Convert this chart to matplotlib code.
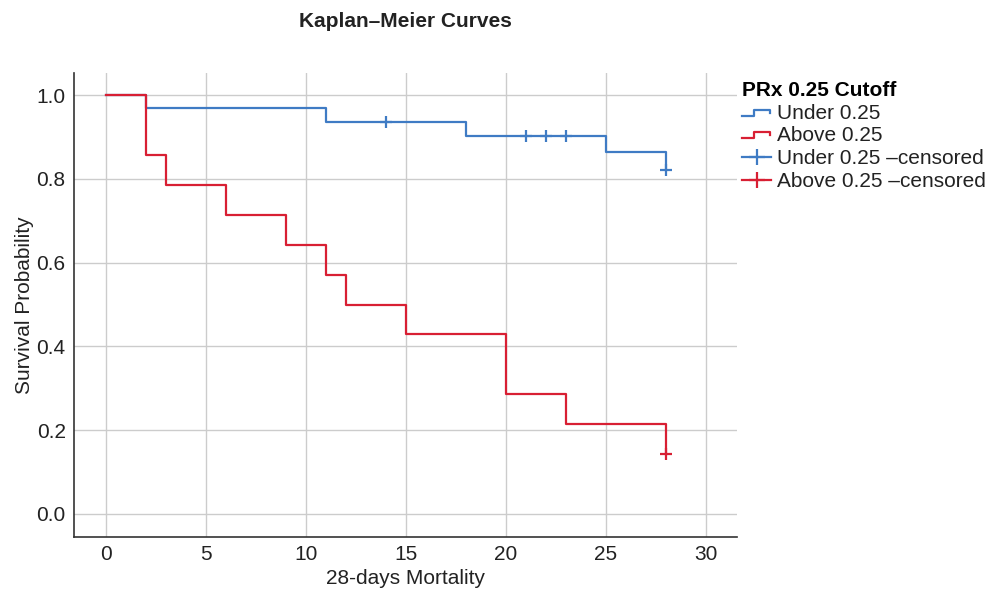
import matplotlib
matplotlib.use("Agg")
import matplotlib.pyplot as plt
from matplotlib.legend_handler import HandlerLine2D
from matplotlib.lines import Line2D
import numpy as np

plt.rcParams['font.family'] = ['Liberation Sans', 'DejaVu Sans']

# Step data (time where survival changes, survival after change)
under_times = [0, 2, 11, 18, 25, 28]
under_surv = [1.0, 0.968, 0.935, 0.903, 0.863, 0.822]
above_times = [0, 2, 3, 6, 9, 11, 12, 15, 20, 23, 28]
above_surv = [1.0, 0.857, 0.786, 0.714, 0.643, 0.571, 0.500, 0.429, 0.286, 0.214, 0.143]

under_cens_t = [14, 21, 22, 23, 28]
under_cens_s = [0.935, 0.903, 0.903, 0.903, 0.822]
above_cens_t = [28]
above_cens_s = [0.143]

xticks = [0, 5, 10, 15, 20, 25, 30]
yticks = [0.0, 0.2, 0.4, 0.6, 0.8, 1.0]

blue = '#3F7BC4'
red = '#D81F33'
FS = 15


class StepHandler(HandlerLine2D):
    def create_artists(self, legend, orig_handle, xdescent, ydescent, width, height, fontsize, trans):
        x0 = -xdescent
        xs = [x0, x0 + width * 0.4, x0 + width * 0.4, x0 + width * 0.95, x0 + width * 0.95]
        yb = -ydescent + height * 0.2
        yt = -ydescent + height * 0.62
        ys = [yb, yb, yt, yt, yt - height * 0.2]
        ln = Line2D(xs, ys, color=orig_handle.get_color(), lw=orig_handle.get_linewidth())
        ln.set_transform(trans)
        return [ln]


fig = plt.figure(figsize=(9.91, 5.90), dpi=100)
ax = fig.add_axes([0.0747, 0.0898, 0.669, 0.786])

l1, = ax.step(under_times, under_surv, where='post', color=blue, lw=1.6, label='Under 0.25')
l2, = ax.step(above_times, above_surv, where='post', color=red, lw=1.6, label='Above 0.25')
ax.plot(under_cens_t, under_cens_s, ls='none', marker='+', ms=9, mew=1.6, color=blue)
ax.plot(above_cens_t, above_cens_s, ls='none', marker='+', ms=9, mew=1.6, color=red)

h3 = Line2D([], [], color=blue, lw=1.6, marker='+', ms=12, mew=1.6, label='Under 0.25 \u2013censored')
h4 = Line2D([], [], color=red, lw=1.6, marker='+', ms=12, mew=1.6, label='Above 0.25 \u2013censored')

ax.set_xlim(-1.6, 31.55)
ax.set_ylim(-0.055, 1.052)
ax.set_xticks(xticks)
ax.set_yticks(yticks)
ax.set_yticklabels([f'{v:.1f}' for v in yticks])
ax.grid(True, color='#CCCCCC', lw=1.0)
ax.set_axisbelow(True)
for s in ['top', 'right']:
    ax.spines[s].set_visible(False)
for s in ['left', 'bottom']:
    ax.spines[s].set_color('#333333')
    ax.spines[s].set_linewidth(1.2)
ax.tick_params(length=0, labelsize=FS, colors='#222222', pad=6)
ax.set_xlabel('28-days Mortality', fontsize=FS, color='#222222', labelpad=3)
ax.set_ylabel('Survival Probability', fontsize=FS, color='#222222', labelpad=2)

fig.text(0.409, 0.963, 'Kaplan\u2013Meier Curves', ha='center', va='center',
         fontsize=FS, fontweight='bold', color='#222222')

leg = ax.legend(handles=[l1, l2, h3, h4],
                handler_map={l1: StepHandler(), l2: StepHandler()},
                title='PRx 0.25 Cutoff', loc='upper left', bbox_to_anchor=(0.986, 1.015),
                frameon=False, fontsize=FS, handlelength=1.4, handletextpad=0.25,
                labelspacing=0.18, borderaxespad=0.3, alignment='left')
leg.get_title().set_fontweight('bold')
leg.get_title().set_fontsize(FS)
for t in leg.get_texts():
    t.set_color('#222222')

fig.savefig('out.png', dpi=100)
